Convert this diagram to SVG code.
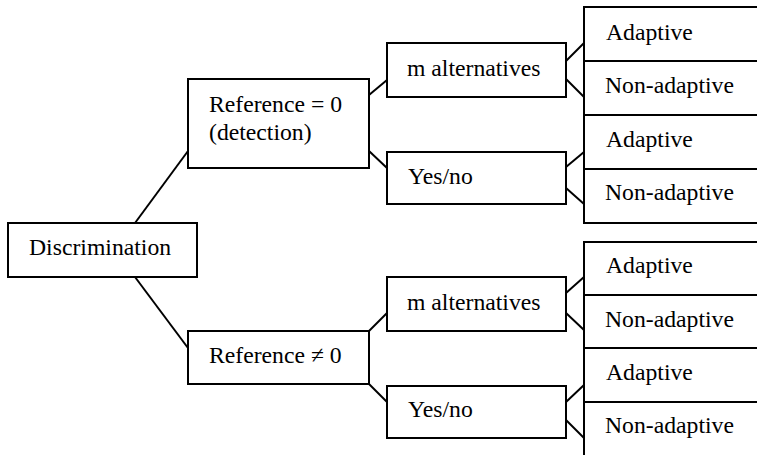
<svg xmlns="http://www.w3.org/2000/svg" width="757" height="455" viewBox="0 0 757 455">
<style>
.box{fill:#fff;stroke:#000;stroke-width:2}
.ln{stroke:#000;stroke-width:2;fill:none}
</style>
<rect width="757" height="455" fill="#fff"/>
<g id="connectors">
<line class="ln" x1="135" y1="223" x2="188" y2="151"/>
<line class="ln" x1="135" y1="277" x2="188" y2="348"/>
<line class="ln" x1="369" y1="95" x2="387" y2="80"/>
<line class="ln" x1="369" y1="151" x2="387" y2="168"/>
<line class="ln" x1="369" y1="331" x2="387" y2="313"/>
<line class="ln" x1="369" y1="384" x2="387" y2="402"/>
<line class="ln" x1="566" y1="61" x2="584" y2="43"/>
<line class="ln" x1="566" y1="79" x2="584" y2="97"/>
<line class="ln" x1="566" y1="167" x2="584" y2="152"/>
<line class="ln" x1="566" y1="188" x2="584" y2="204"/>
<line class="ln" x1="566" y1="293" x2="584" y2="277"/>
<line class="ln" x1="566" y1="313" x2="584" y2="330"/>
<line class="ln" x1="566" y1="402" x2="584" y2="385"/>
<line class="ln" x1="566" y1="420" x2="584" y2="438"/>
</g>
<g font-family="Liberation Serif, Times New Roman, DejaVu Serif, serif" font-size="23.7" fill="#000">
<g id="discrimination"><rect class="box" x="8" y="223" width="189" height="54"/><text x="29" y="255">Discrimination</text></g>
<g id="ref-zero"><rect class="box" x="188" y="79" width="181" height="89"/><text x="209" y="112">Reference = 0</text><text x="209" y="140">(detection)</text></g>
<g id="ref-nonzero"><rect class="box" x="188" y="331" width="181" height="53"/><text x="209" y="363">Reference ≠ 0</text></g>
<g id="malt-1"><rect class="box" x="387" y="43" width="179" height="54"/><text x="407" y="76">m alternatives</text></g>
<g id="yesno-1"><rect class="box" x="387" y="152" width="179" height="52"/><text x="408" y="184">Yes/no</text></g>
<g id="malt-2"><rect class="box" x="387" y="277" width="179" height="54"/><text x="407" y="310">m alternatives</text></g>
<g id="yesno-2"><rect class="box" x="387" y="386" width="179" height="52"/><text x="408" y="417">Yes/no</text></g>
<g id="leaf-1"><rect class="box" x="584" y="7" width="190" height="54"/><text x="606" y="40">Adaptive</text></g>
<g id="leaf-2"><rect class="box" x="584" y="61" width="190" height="54"/><text x="605" y="93">Non-adaptive</text></g>
<g id="leaf-3"><rect class="box" x="584" y="115" width="190" height="54"/><text x="606" y="147">Adaptive</text></g>
<g id="leaf-4"><rect class="box" x="584" y="169" width="190" height="54"/><text x="605" y="200">Non-adaptive</text></g>
<g id="leaf-5"><rect class="box" x="584" y="242" width="190" height="53"/><text x="606" y="273">Adaptive</text></g>
<g id="leaf-6"><rect class="box" x="584" y="295" width="190" height="53"/><text x="605" y="327">Non-adaptive</text></g>
<g id="leaf-7"><rect class="box" x="584" y="348" width="190" height="54"/><text x="606" y="380">Adaptive</text></g>
<g id="leaf-8"><rect class="box" x="584" y="402" width="190" height="60"/><text x="605" y="433">Non-adaptive</text></g>
</g>
</svg>
